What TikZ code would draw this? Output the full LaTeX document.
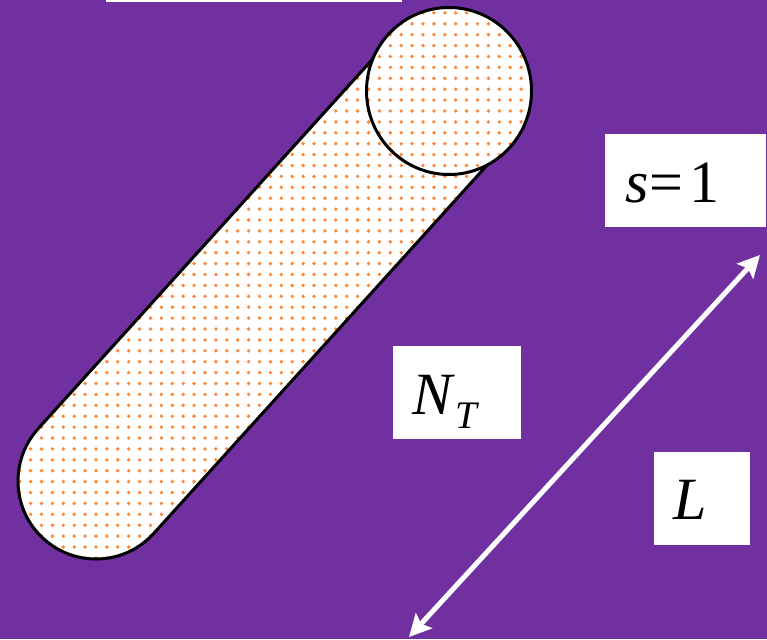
\documentclass[tikz,border=0pt]{standalone}
\usepackage{fontspec}
\setmainfont{Liberation Serif}
\usetikzlibrary{arrows.meta}
\definecolor{bgpurple}{RGB}{112,48,160}
\definecolor{dotorange}{RGB}{255,135,50}
\begin{document}
\begin{tikzpicture}[x=1pt,y=-1pt,
  outline/.style={draw=black,line width=3pt},
  labelbox/.style={fill=white,draw=none,inner sep=0pt,anchor=north west},
  labeltext/.style={inner sep=0pt,anchor=base west,font=\fontsize{60}{60}\selectfont},
  dimarrow/.style={draw=white,line width=5pt,{Stealth[length=22pt,width=22pt,inset=4pt]}-{Stealth[length=22pt,width=22pt,inset=4pt]}},
  dotstyle/.style={fill=dotorange}]
\fill[bgpurple] (0,0) rectangle (767,639);
\useasboundingbox (0,0) rectangle (767,639);
% top white strip
\fill[white] (106,0) rectangle (402,2);
% capsule body
\begin{scope}
  \clip ([shift={(42.15:78)}]96,481) -- ++(353,-390)
     arc[start angle=42.15,end angle=-137.85,radius=78] -- ++(-353,390)
     arc[start angle=-137.85,end angle=-317.85,radius=78] -- cycle;
  \fill[white] (0,0) rectangle (600,600);
  \foreach \i in {0,...,48}{
    \foreach \j in {0,...,52}{
      \fill[dotstyle] (8.8+\i*10.9,2+\j*10.9) circle[radius=1.9];
    }
  }
\end{scope}
\draw[outline] ([shift={(42.15:78)}]96,481) -- ++(353,-390)
     arc[start angle=42.15,end angle=-137.85,radius=78] -- ++(-353,390)
     arc[start angle=-137.85,end angle=-317.85,radius=78] -- cycle;
% end face
\begin{scope}
  \clip (449,91) ellipse[x radius=82.5,y radius=83.5];
  \fill[white] (360,0) rectangle (540,180);
  \foreach \i in {32,...,48}{
    \foreach \j in {0,...,17}{
      \fill[dotstyle] (8.8+\i*10.9,2+\j*10.9) circle[radius=1.9];
    }
  }
\end{scope}
\draw[outline] (449,91) ellipse[x radius=82.5,y radius=83.5];
% dimension arrow
\coordinate (arrowlow) at (409,637);
\coordinate (arrowhigh) at (760,255);
\draw[dimarrow] (arrowlow) -- (arrowhigh);
% labels
\node[labelbox,minimum width=161pt,minimum height=93pt] (sbox) at (605,134) {};
\node[labeltext] (stext) at (625,202) {\textit{s}\kern1pt=\kern6pt1};
\node[labelbox,minimum width=128pt,minimum height=93pt] (nbox) at (393,346) {};
\node[labeltext] (ntext) at (412,414) {\textit{N}\raisebox{-14pt}{\fontsize{39}{39}\selectfont\textit{T}}};
\node[labelbox,minimum width=96pt,minimum height=93pt] (lbox) at (654,452) {};
\node[labeltext] (ltext) at (673,519) {\textit{L}};
\end{tikzpicture}
\end{document}
